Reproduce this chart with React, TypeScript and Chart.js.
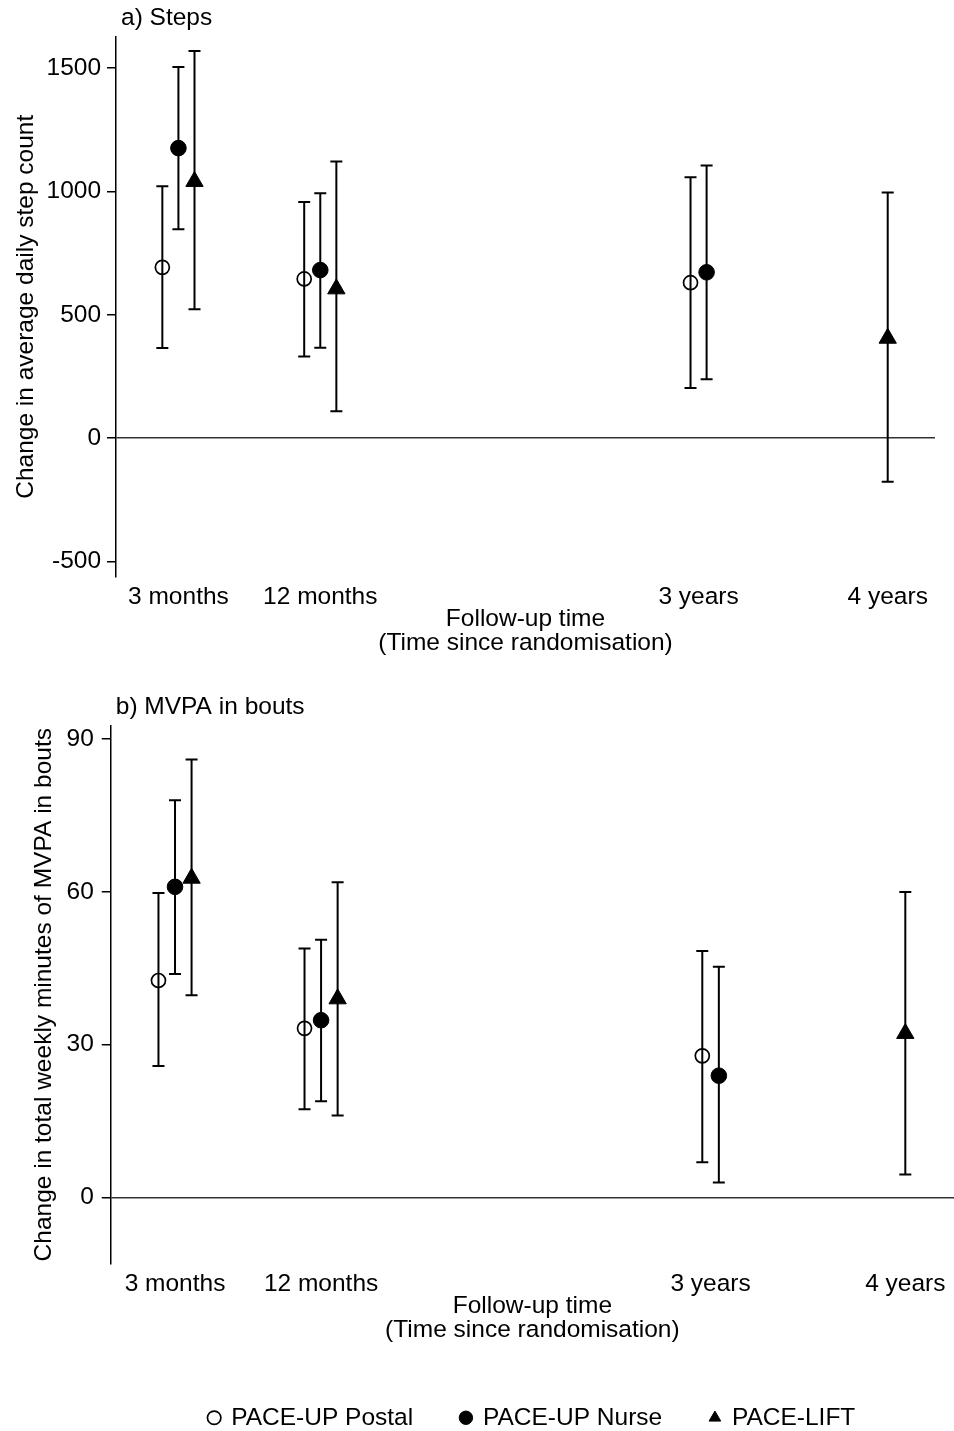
import React, { useEffect, useRef } from 'react';
import { Chart, registerables } from 'chart.js';

Chart.register(...registerables);

// ---------- data ----------
const timeLabels = ['3 months', '12 months', '3 years', '4 years'];
const timeYears = [0.25, 1, 3, 4];
const seriesNames = ['PACE-UP Postal', 'PACE-UP Nurse', 'PACE-LIFT'];

// a) Steps
const stepsPostal = [692, 645, 630, null];
const stepsPostalLo = [365, 331, 203, null];
const stepsPostalHi = [1021, 957, 1057, null];
const stepsNurse = [1175, 681, 672, null];
const stepsNurseLo = [846, 366, 239, null];
const stepsNurseHi = [1504, 992, 1105, null];
const stepsLift = [1040, 605, null, 405];
const stepsLiftLo = [522, 109, null, -176];
const stepsLiftHi = [1568, 1121, null, 995];
const stepsTicks = [-500, 0, 500, 1000, 1500];

// b) MVPA in bouts
const mvpaPostal = [42.6, 33.2, 27.8, null];
const mvpaPostalLo = [25.8, 17.3, 6.9, null];
const mvpaPostalHi = [59.8, 48.9, 48.4, null];
const mvpaNurse = [61.0, 34.8, 23.9, null];
const mvpaNurseLo = [43.9, 18.9, 2.9, null];
const mvpaNurseHi = [78.0, 50.6, 45.3, null];
const mvpaLift = [62.7, 39.0, null, 32.2];
const mvpaLiftLo = [39.7, 16.1, null, 4.5];
const mvpaLiftHi = [86.0, 61.9, null, 60.0];
const mvpaTicks = [0, 30, 60, 90];

// ---------- styles ----------
const FONT = "'Liberation Sans', Arial, Helvetica, sans-serif";
const FS = 24.5;
const DODGE = 0.085;
const seriesStyles = [
  { pointStyle: 'circle', pointRadius: 7, pointBackgroundColor: 'rgba(0,0,0,0)', pointBorderColor: '#000', pointBorderWidth: 1.7, backgroundColor: 'rgba(0,0,0,0)', borderColor: '#000', borderWidth: 1.7 },
  { pointStyle: 'circle', pointRadius: 7.8, pointBackgroundColor: '#000', pointBorderColor: '#000', pointBorderWidth: 1, backgroundColor: '#000', borderColor: '#000', borderWidth: 1 },
  { pointStyle: 'triangle', pointRadius: 10, pointBackgroundColor: '#000', pointBorderColor: '#000', pointBorderWidth: 1, backgroundColor: '#000', borderColor: '#000', borderWidth: 1 },
];

type Series = { mid: (number | null)[]; lo: (number | null)[]; hi: (number | null)[] };

function buildDatasets(series: Series[]) {
  return series.map((s, si) => {
    const data: any[] = [];
    timeYears.forEach((t, ti) => {
      if (s.mid[ti] == null) return;
      const present = series.map((ss, k) => (ss.mid[ti] != null ? k : -1)).filter((k) => k >= 0);
      const pos = present.indexOf(si);
      const off = (pos - (present.length - 1) / 2) * DODGE;
      data.push({ x: t + off, y: s.mid[ti], lo: s.lo[ti], hi: s.hi[ti] });
    });
    return { label: seriesNames[si], data, showLine: false, ...seriesStyles[si] };
  });
}

const errorBarPlugin = {
  id: 'errorBars',
  beforeDatasetsDraw(chart: any) {
    const { ctx } = chart;
    const y = chart.scales.y;
    const cap = 6;
    ctx.save();
    ctx.strokeStyle = '#000';
    ctx.lineWidth = 2;
    chart.data.datasets.forEach((ds: any, di: number) => {
      const meta = chart.getDatasetMeta(di);
      ds.data.forEach((pt: any, i: number) => {
        const el = meta.data[i];
        if (!el) return;
        const yl = y.getPixelForValue(pt.lo);
        const yh = y.getPixelForValue(pt.hi);
        ctx.beginPath();
        ctx.moveTo(el.x, yl);
        ctx.lineTo(el.x, yh);
        ctx.moveTo(el.x - cap, yl);
        ctx.lineTo(el.x + cap, yl);
        ctx.moveTo(el.x - cap, yh);
        ctx.lineTo(el.x + cap, yh);
        ctx.stroke();
      });
    });
    ctx.restore();
  },
};

const panelTitlePlugin = {
  id: 'panelTitle',
  afterDraw(chart: any, _args: any, opts: any) {
    const { ctx, chartArea } = chart;
    ctx.save();
    ctx.font = `${FS}px ${FONT}`;
    ctx.fillStyle = '#000';
    ctx.textAlign = 'left';
    ctx.textBaseline = 'middle';
    ctx.fillText(opts.text, chartArea.left + opts.dx, chartArea.top - opts.dy);
    ctx.restore();
  },
};

function makeConfig(p: {
  series: Series[];
  yTicks: number[];
  yMin: number;
  yMax: number;
  yTitle: string;
  panel: string;
  yTitlePad: { top: number; bottom: number };
  yTickPad: number;
  xTitlePad: { top: number; bottom: number };
  layoutPad: any;
  legend: boolean;
}) {
  const font = { size: FS, family: FONT, lineHeight: 1 };
  const titleFont = { size: FS, family: FONT, lineHeight: '24px' };
  return {
    type: 'scatter',
    data: { datasets: buildDatasets(p.series) },
    plugins: [errorBarPlugin, panelTitlePlugin],
    options: {
      responsive: false,
      animation: false,
      events: [],
      layout: { padding: p.layoutPad, autoPadding: false },
      scales: {
        x: {
          type: 'linear',
          min: -0.08,
          max: 4.25,
          afterBuildTicks: (scale: any) => {
            scale.ticks = timeYears.map((v) => ({ value: v }));
          },
          ticks: {
            callback: (_v: any, i: number) => timeLabels[i],
            font,
            color: '#000',
            padding: 8,
            maxRotation: 0,
            autoSkip: false,
          },
          grid: { display: false, drawTicks: false },
          border: { display: false },
          title: {
            display: true,
            text: ['Follow-up time', '(Time since randomisation)'],
            font: titleFont,
            color: '#000',
            padding: p.xTitlePad,
          },
        },
        y: {
          type: 'linear',
          min: p.yMin,
          max: p.yMax,
          afterBuildTicks: (scale: any) => {
            scale.ticks = p.yTicks.map((v) => ({ value: v }));
          },
          ticks: {
            callback: (v: any) => String(v),
            font,
            color: '#000',
            padding: p.yTickPad,
            autoSkip: false,
          },
          grid: {
            display: true,
            drawOnChartArea: true,
            drawTicks: true,
            tickLength: 9,
            tickWidth: 1.5,
            tickColor: '#000',
            lineWidth: 1.5,
            color: (ctx: any) => (ctx.tick && ctx.tick.value === 0 ? '#333' : 'rgba(0,0,0,0)'),
          },
          border: { display: true, color: '#000', width: 1.5 },
          title: {
            display: true,
            text: p.yTitle,
            font,
            color: '#000',
            padding: p.yTitlePad,
          },
        },
      },
      plugins: {
        tooltip: { enabled: false },
        legend: {
          display: p.legend,
          position: 'bottom',
          fullSize: false,
          align: 'center',
          labels: {
            usePointStyle: true,
            boxWidth: 9.5,
            boxHeight: 9.5,
            padding: 48,
            font,
            color: '#000',
          },
        },
        panelTitle: { text: p.panel, dx: 5, dy: 19 },
      },
    },
  };
}

export default function App() {
  const refA = useRef<HTMLCanvasElement | null>(null);
  const refB = useRef<HTMLCanvasElement | null>(null);

  useEffect(() => {
    Chart.defaults.font.family = FONT;
    Chart.defaults.color = '#000';
    const cfgA: any = makeConfig({
      series: [
        { mid: stepsPostal, lo: stepsPostalLo, hi: stepsPostalHi },
        { mid: stepsNurse, lo: stepsNurseLo, hi: stepsNurseHi },
        { mid: stepsLift, lo: stepsLiftLo, hi: stepsLiftHi },
      ],
      yTicks: stepsTicks,
      yMin: -560,
      yMax: 1625,
      yTitle: 'Change in average daily step count',
      panel: 'a) Steps',
      yTitlePad: { top: 14, bottom: 2 },
      yTickPad: 6,
      xTitlePad: { top: -10, bottom: 5 },
      layoutPad: { top: 37, right: 19, bottom: 0, left: 0 },
      legend: false,
    });
    const cfgB: any = makeConfig({
      series: [
        { mid: mvpaPostal, lo: mvpaPostalLo, hi: mvpaPostalHi },
        { mid: mvpaNurse, lo: mvpaNurseLo, hi: mvpaNurseHi },
        { mid: mvpaLift, lo: mvpaLiftLo, hi: mvpaLiftHi },
      ],
      yTicks: mvpaTicks,
      yMin: -13,
      yMax: 92.6,
      yTitle: 'Change in total weekly minutes of MVPA in bouts',
      panel: 'b) MVPA in bouts',
      yTitlePad: { top: 32, bottom: 2 },
      yTickPad: 8,
      xTitlePad: { top: -10, bottom: 15.5 },
      layoutPad: { top: 66, right: 0, bottom: 0, left: 0 },
      legend: true,
    });
    const a = new Chart(refA.current as HTMLCanvasElement, cfgA);
    const b = new Chart(refB.current as HTMLCanvasElement, cfgB);
    return () => {
      a.destroy();
      b.destroy();
    };
  }, []);

  return (
    <div
      style={{
        position: 'absolute',
        left: 0,
        top: 0,
        width: 954,
        height: 1431,
        overflow: 'hidden',
        background: '#fff',
      }}
    >
      <canvas
        ref={refA}
        width={954}
        height={660}
        style={{ position: 'absolute', left: 0, top: 0, width: 954, height: 660 }}
      />
      <canvas
        ref={refB}
        width={954}
        height={780}
        style={{ position: 'absolute', left: 0, top: 660, width: 954, height: 780 }}
      />
    </div>
  );
}
